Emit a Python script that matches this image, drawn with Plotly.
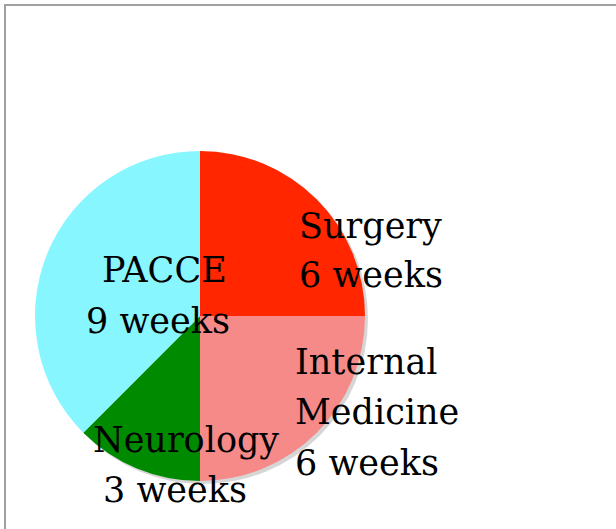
import plotly.graph_objects as go

W, H = 616, 529

categories = ["Surgery", "Internal Medicine", "Neurology", "PACCE"]
weeks = [6, 6, 3, 9]
label_lines = [["Surgery", "6 weeks"], ["Internal", "Medicine", "6 weeks"],
               ["Neurology", "3 weeks"], ["PACCE", "9 weeks"]]
colors = ["#FF2600", "#F58A88", "#008A00", "#88F6FF"]

def px(x):
    return x / W

def py(y):
    return 1 - y / H

# pie geometry (pixels)
cx, cy, r = 200, 316, 165
dom_x = [px(cx - r), px(cx + r)]
dom_y = [py(cy + r), py(cy - r)]
sh = 3
shadow_x = [px(cx - r + sh), px(cx + r + sh)]
shadow_y = [py(cy + r + sh), py(cy - r + sh)]

fig = go.Figure()
fig.add_trace(go.Pie(
    labels=categories, values=weeks, sort=False, direction="clockwise",
    marker=dict(colors=["rgba(0,0,0,0.16)"] * 4, line=dict(width=0)),
    textinfo="none", hoverinfo="skip", showlegend=False,
    domain=dict(x=shadow_x, y=shadow_y),
))
fig.add_trace(go.Pie(
    labels=categories, values=weeks, sort=False, direction="clockwise",
    marker=dict(colors=colors, line=dict(width=0)),
    textinfo="none", showlegend=False,
    domain=dict(x=dom_x, y=dom_y),
))

# per-line label placement (pixels): (x, baseline, anchor)
line_pos = [
    [(297, 237, "left"), (297, 286, "left")],
    [(293, 373, "left"), (293, 423, "left"), (293, 474, "left")],
    [(186, 451, "center"), (175, 501, "center")],
    [(164, 281, "center"), (158, 332, "center")],
]
FS = 35
annotations = []
for lines, poss in zip(label_lines, line_pos):
    for txt, (lx, base, anc) in zip(lines, poss):
        annotations.append(dict(
            text=txt, x=px(lx), y=py(base - 0.32 * FS), xref="paper", yref="paper",
            xanchor=anc, yanchor="middle", align=anc, showarrow=False,
            font=dict(family="DejaVu Serif", size=FS, color="black"),
        ))

fig.update_layout(
    width=W, height=H, margin=dict(l=0, r=0, t=0, b=0),
    paper_bgcolor="white", plot_bgcolor="white",
    annotations=annotations,
    shapes=[dict(type="rect", xref="paper", yref="paper",
                 x0=px(5), y0=-0.1, x1=1.1, y1=py(5),
                 line=dict(color="#A0A0A0", width=2))],
)
fig.write_html("out.html", config={"displayModeBar": False},
               post_script="document.body.style.margin='0';document.body.style.overflow='hidden';")
